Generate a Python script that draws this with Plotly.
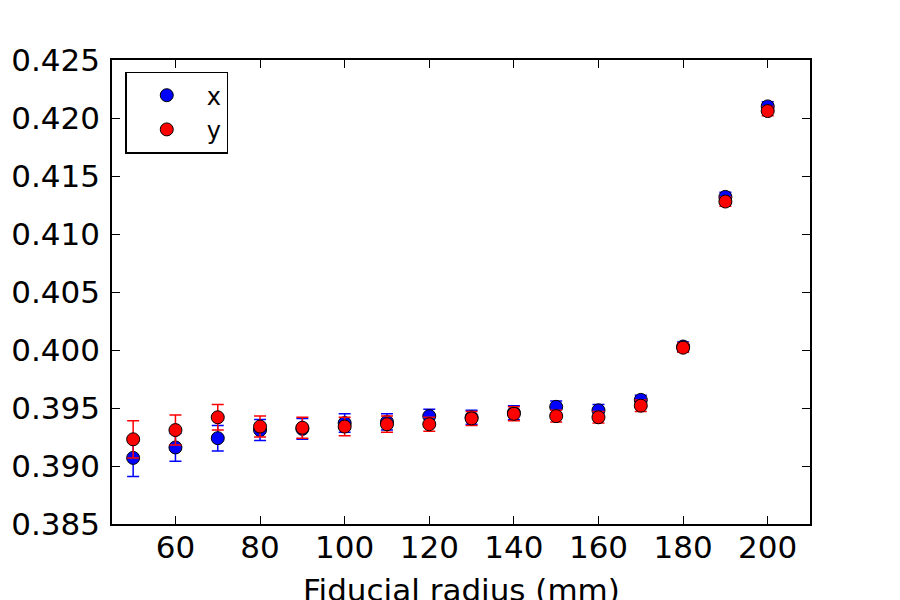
import plotly.graph_objects as go

radius = [50, 60, 70, 80, 90, 100, 110, 120, 130, 140, 150, 160, 170, 180, 190, 200]

x_vals = [0.3907, 0.3916, 0.3924, 0.3931, 0.3932, 0.3937, 0.3938, 0.3943, 0.3942, 0.3946,
          0.3951, 0.3948, 0.3957, 0.4003, 0.4132, 0.4210]
x_err = [0.0016, 0.0012, 0.0011, 0.0009, 0.0009, 0.0008, 0.0007, 0.0006, 0.0006, 0.0006,
         0.0005, 0.0005, 0.0004, 0.0004, 0.0004, 0.0004]

y_vals = [0.3923, 0.3931, 0.3942, 0.3934, 0.3933, 0.3934, 0.3936, 0.3936, 0.3941, 0.3945,
          0.3943, 0.3942, 0.3952, 0.4002, 0.4128, 0.4206]
y_err = [0.0016, 0.0013, 0.0011, 0.0009, 0.0009, 0.0008, 0.0007, 0.0006, 0.0006, 0.0006,
         0.0005, 0.0005, 0.0005, 0.0004, 0.0004, 0.0004]

x_ticks = [60, 80, 100, 120, 140, 160, 180, 200]
y_ticks = [0.385, 0.390, 0.395, 0.400, 0.405, 0.410, 0.415, 0.420, 0.425]
x_title = "Fiducial radius (mm)"

FONT = "DejaVu Sans"

fig = go.Figure()
for name, vals, errs, col in [("x", x_vals, x_err, "blue"), ("y", y_vals, y_err, "red")]:
    fig.add_trace(go.Scatter(
        x=radius, y=vals, mode="markers", name=name,
        marker=dict(color=col, size=13, line=dict(color="black", width=1)),
        error_y=dict(type="data", array=errs, visible=True, color=col,
                     thickness=1.5, width=6),
    ))

axis_common = dict(
    showline=True, linecolor="black", linewidth=1.5, mirror="ticks",
    ticks="inside", ticklen=8, tickwidth=1, tickcolor="black",
    showgrid=False, zeroline=False,
    tickfont=dict(family=FONT, size=31, color="black"),
)

fig.update_xaxes(range=[45, 210], tickvals=x_ticks, ticktext=[str(t) for t in x_ticks],
                 ticklabelstandoff=-5, **axis_common)
fig.update_yaxes(range=[0.385, 0.425], tickvals=y_ticks, ticktext=[f"{t:.3f}" for t in y_ticks],
                 ticklabelstandoff=4, **axis_common)

fig.add_annotation(text=x_title, xref="paper", yref="paper", x=0.5, y=0,
                   xanchor="center", yanchor="top", yshift=-46, showarrow=False,
                   font=dict(family=FONT, size=31, color="black"))

fig.update_layout(
    width=900, height=600,
    margin=dict(l=112, r=90, t=60, b=76, autoexpand=False),
    plot_bgcolor="white", paper_bgcolor="white",
    font=dict(family=FONT, color="black"),
    showlegend=True,
    legend=dict(x=0.019, y=0.975, xanchor="left", yanchor="top",
                bordercolor="black", borderwidth=1.5, bgcolor="white",
                font=dict(family=FONT, size=24, color="black"),
                itemwidth=70),
)

fig.write_html("out.html")
